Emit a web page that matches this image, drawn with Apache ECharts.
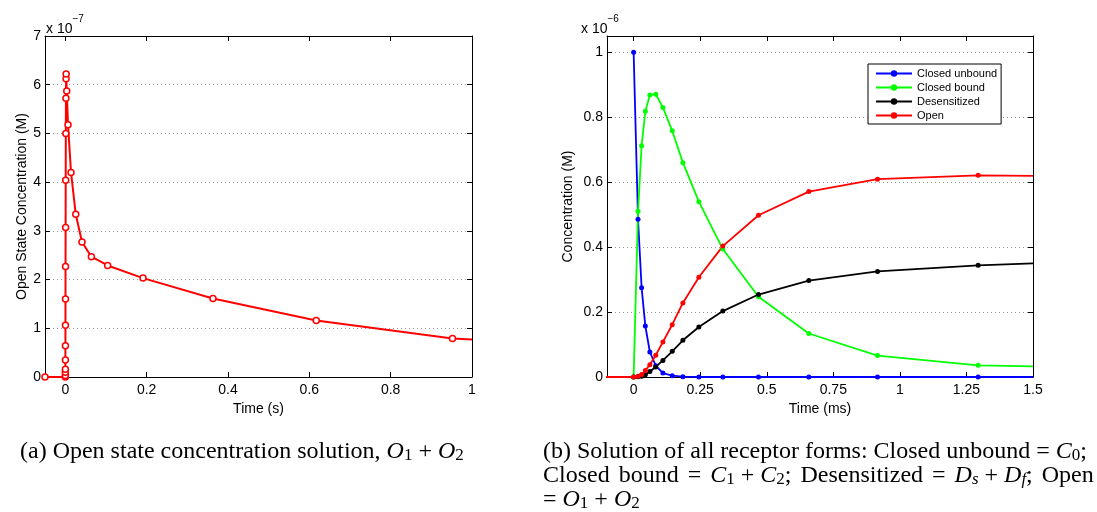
<!DOCTYPE html>
<html>
<head>
<meta charset="utf-8">
<title>Receptor states</title>
<script src="https://cdn.jsdelivr.net/npm/echarts@6/dist/echarts.min.js"></script>
</head>
<body style="margin:0;background:#fff">
<div id="main" style="width:1097px;height:512px;"></div>
<script>
// (a) open state O1+O2, time in s, concentration in units of 1e-7 M
var timeA = [-0.05, 0, 0.00002, 0.00005, 0.0001, 0.00015, 0.0002, 0.0003, 0.0004, 0.0005, 0.0007, 0.0009, 0.0012, 0.0015, 0.0018, 0.002,
             0.0035, 0.0066, 0.014, 0.0256, 0.041, 0.064, 0.104, 0.191, 0.363, 0.617, 0.952, 1.0];
var openA = [0, 0, 0.03, 0.10, 0.16, 0.35, 0.64, 1.06, 1.60, 2.27, 3.07, 4.04, 5.00, 5.72, 6.12, 6.22,
             5.87, 5.18, 4.20, 3.34, 2.77, 2.47, 2.29, 2.03, 1.61, 1.16, 0.79, 0.77];

// (b) all receptor forms, time in ms, concentration in units of 1e-6 M
var timeB = [-0.2, 0, 0.0165, 0.030, 0.044, 0.061, 0.083, 0.110, 0.145, 0.185, 0.245, 0.335, 0.469, 0.658, 0.916, 1.294, 1.5];
var closedUnbound = [null, 1.0, 0.486, 0.275, 0.157, 0.077, 0.035, 0.012, 0.004, 0.001, 0, 0, 0, 0, 0, 0, 0];
var closedBound = [null, 0, 0.51, 0.712, 0.818, 0.868, 0.871, 0.830, 0.758, 0.66, 0.54, 0.394, 0.247, 0.134, 0.066, 0.036, 0.033];
var desensitized = [0, 0, 0.0005, 0.002, 0.007, 0.017, 0.031, 0.051, 0.079, 0.113, 0.154, 0.203, 0.254, 0.297, 0.325, 0.344, 0.350];
var openB = [0, 0, 0.002, 0.008, 0.02, 0.038, 0.067, 0.108, 0.161, 0.228, 0.307, 0.403, 0.498, 0.571, 0.609, 0.621, 0.619];

var xTicksA = [0, 0.2, 0.4, 0.6, 0.8, 1];
var xTicksB = [0, 0.25, 0.5, 0.75, 1, 1.25, 1.5];
var yTicksB = [0, 0.2, 0.4, 0.6, 0.8, 1];

var FONT = 'Liberation Sans, Arial, sans-serif';
var SERIF = 'Liberation Serif, Times New Roman, serif';

// pair up x/y, last point (end of line at the axis edge) has no marker
function pairs(xs, ys) {
    var out = [];
    for (var i = 0; i < xs.length; i++) {
        if (ys[i] === null) continue;
        var p = { value: [xs[i], ys[i]] };
        if (i === xs.length - 1) p.symbolSize = 0;
        out.push(p);
    }
    return out;
}

function xAx(grid, min, max, ticks, pos, name) {
    return {
        type: 'value', gridIndex: grid, min: min, max: max, position: pos,
        name: name || '', nameLocation: 'middle', nameGap: 22,
        nameTextStyle: { fontFamily: FONT, fontSize: 14, color: '#000' },
        axisLine: { show: true, onZero: false, lineStyle: { color: '#000', width: 1 } },
        axisTick: { show: true, inside: true, length: 5, customValues: ticks, lineStyle: { color: '#000' } },
        axisLabel: { show: !!name, customValues: ticks, margin: 6, fontFamily: FONT, fontSize: 14, color: '#000' },
        splitLine: { show: false }
    };
}

function yAx(grid, max, interval, ticks, pos, name, gap) {
    var ax = {
        type: 'value', gridIndex: grid, min: 0, max: max, interval: interval, position: pos,
        name: name || '', nameLocation: 'middle', nameGap: gap || 0,
        nameTextStyle: { fontFamily: FONT, fontSize: 14, color: '#000' },
        axisLine: { show: true, onZero: false, lineStyle: { color: '#000', width: 1 } },
        axisTick: { show: true, inside: true, length: 5, lineStyle: { color: '#000' } },
        axisLabel: { show: !!name, margin: 4, fontFamily: FONT, fontSize: 14, color: '#000' },
        splitLine: { show: !!name, lineStyle: { color: '#999', type: [1, 3], width: 1 } }
    };
    if (ticks) {
        ax.axisTick.customValues = ticks;
        ax.axisLabel.customValues = ticks;
    }
    return ax;
}

function dotSeries(name, color, ys) {
    return {
        name: name, type: 'line', xAxisIndex: 2, yAxisIndex: 2,
        data: pairs(timeB, ys),
        symbol: 'circle', symbolSize: 5, showAllSymbol: true,
        lineStyle: { color: color, width: 1.8 },
        itemStyle: { color: color },
        z: 3
    };
}

var myChart = echarts.init(document.getElementById('main'));

var option = {
    animation: false,
    backgroundColor: '#fff',
    grid: [
        { left: 45, top: 36, width: 427, height: 341 },
        { left: 607, top: 36, width: 426, height: 341 }
    ],
    xAxis: [
        xAx(0, -0.05, 1, xTicksA, 'bottom', 'Time (s)'),
        xAx(0, -0.05, 1, xTicksA, 'top'),
        xAx(1, -0.1, 1.5, xTicksB, 'bottom', 'Time (ms)'),
        xAx(1, -0.1, 1.5, xTicksB, 'top')
    ],
    yAxis: [
        yAx(0, 7, 1, null, 'left', 'Open State Concentration (M)', 16),
        yAx(0, 7, 1, null, 'right'),
        yAx(1, 1.05, 0.2, yTicksB, 'left', 'Concentration (M)', 32),
        yAx(1, 1.05, 0.2, yTicksB, 'right')
    ],
    legend: {
        data: ['Closed unbound', 'Closed bound', 'Desensitized', 'Open'],
        orient: 'vertical', left: 868, top: 64,
        itemWidth: 36, itemHeight: 8, itemGap: 1,
        padding: [3, 4, 2, 7],
        borderColor: '#000', borderWidth: 1, backgroundColor: '#fff',
        textStyle: { fontFamily: FONT, fontSize: 11, color: '#000', lineHeight: 13 }
    },
    series: [
        {
            name: 'O1+O2', type: 'line', xAxisIndex: 0, yAxisIndex: 0,
            data: pairs(timeA, openA),
            symbol: 'circle', symbolSize: 6, showAllSymbol: true,
            lineStyle: { color: '#ff0000', width: 2 },
            itemStyle: { color: '#fff', borderColor: '#ff0000', borderWidth: 1.5 }
        },
        dotSeries('Closed unbound', '#0000ff', closedUnbound),
        dotSeries('Closed bound', '#00ff00', closedBound),
        dotSeries('Desensitized', '#000000', desensitized),
        dotSeries('Open', '#ff0000', openB)
    ],
    graphic: [
        {
            type: 'text', left: 46, top: 14,
            style: {
                text: '{a|x 10}{b|\u22127}',
                rich: {
                    a: { fontFamily: FONT, fontSize: 14, lineHeight: 22, verticalAlign: 'bottom', fill: '#000' },
                    b: { fontFamily: FONT, fontSize: 10, lineHeight: 6, verticalAlign: 'top', fill: '#000' }
                }
            }
        },
        {
            type: 'text', left: 581, top: 14,
            style: {
                text: '{a|x 10}{b|\u22126}',
                rich: {
                    a: { fontFamily: FONT, fontSize: 14, lineHeight: 22, verticalAlign: 'bottom', fill: '#000' },
                    b: { fontFamily: FONT, fontSize: 10, lineHeight: 6, verticalAlign: 'top', fill: '#000' }
                }
            }
        }
    ]
};

// figure captions (line 2 of (b) is justified with wider spaces)
var capRich = {
    t: { fontFamily: SERIF, fontSize: 24, lineHeight: 24, verticalAlign: 'bottom', fill: '#000' },
    i: { fontFamily: SERIF, fontSize: 24, fontStyle: 'italic', lineHeight: 24, verticalAlign: 'bottom', fill: '#000' },
    s: { fontFamily: SERIF, fontSize: 17, lineHeight: 10, verticalAlign: 'bottom', fill: '#000' },
    si: { fontFamily: SERIF, fontSize: 17, fontStyle: 'italic', lineHeight: 10, verticalAlign: 'bottom', fill: '#000' },
    w: { fontFamily: SERIF, fontSize: 24, lineHeight: 24, width: 9, verticalAlign: 'bottom' }
};
var captions = [
    [20, 440, '{t|(a) Open state concentration solution, }{i|O}{s|1}{t| + }{i|O}{s|2}'],
    [543, 440, '{t|(b) Solution of all receptor forms: Closed unbound = }{i|C}{s|0}{t|;}'],
    [543, 464, '{t|Closed}{w|}{t|bound}{w|}{t|=}{w|}{i|C}{s|1}{t| + }{i|C}{s|2}{t|;}{w|}{t|Desensitized}{w|}{t|=}{w|}{i|D}{si|s}{t| + }{i|D}{si|f}{t|;}{w|}{t|Open}'],
    [543, 488, '{t|= }{i|O}{s|1}{t| + }{i|O}{s|2}']
];
captions.forEach(function (c) {
    option.graphic.push({ type: 'text', left: c[0], top: c[1], style: { text: c[2], rich: capRich } });
});

myChart.setOption(option);
</script>
</body>
</html>
